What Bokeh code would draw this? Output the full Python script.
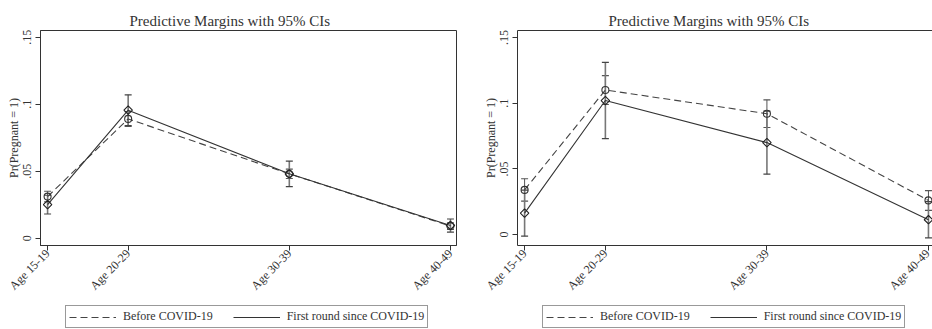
import numpy as np
from bokeh.plotting import figure
from bokeh.layouts import row, column
from bokeh.models import (Range1d, FixedTicker, Legend, LegendItem, LinearAxis)
from bokeh.embed import file_html
from bokeh.resources import INLINE

# ---------------- data ----------------
x_vals = [15, 20, 30, 40]
age_labels = ["Age 15-19", "Age 20-29", "Age 30-39", "Age 40-49"]
y_ticks = [0, 0.05, 0.1, 0.15]
y_tick_labels = ["0", ".05", ".1", ".15"]
title_text = "Predictive Margins with 95% CIs"
y_label = "Pr(Pregnant = 1)"
series_names = ["Before COVID-19", "First round since COVID-19"]

# left panel
before_a = [0.031, 0.089, 0.048, 0.009]
before_a_lo = [0.027, 0.0835, 0.0445, 0.0065]
before_a_hi = [0.035, 0.0945, 0.0515, 0.0115]
first_a = [0.025, 0.0955, 0.048, 0.0095]
first_a_lo = [0.018, 0.084, 0.0385, 0.0045]
first_a_hi = [0.032, 0.107, 0.0575, 0.0143]

# right panel
before_b = [0.034, 0.110, 0.092, 0.026]
before_b_lo = [0.0255, 0.099, 0.0815, 0.0185]
before_b_hi = [0.0425, 0.121, 0.1025, 0.0335]
first_b = [0.0163, 0.102, 0.070, 0.0113]
first_b_lo = [-0.0012, 0.073, 0.046, -0.0025]
first_b_hi = [0.0338, 0.131, 0.094, 0.0251]

SERIF = "Liberation Serif"
DARK = "#333333"
DASHED_STYLE = dict(line_color="#444444", line_width=1.1, line_dash="7 4")
SOLID_STYLE = dict(line_color=DARK, line_width=1.1)


def make_panel(before, b_lo, b_hi, first, f_lo, f_hi, y_rng, x_end,
               b_left, b_right, boxed, t_off):
    p = figure(width=466, height=300, output_backend="svg", toolbar_location=None,
               x_range=Range1d(14.56, x_end), y_range=Range1d(*y_rng),
               min_border_left=b_left, min_border_right=b_right,
               min_border_top=30, min_border_bottom=53,
               background_fill_color="white", border_fill_color="white")
    p.grid.visible = False

    xa = p.below[0]
    xa.ticker = FixedTicker(ticks=x_vals)
    xa.major_label_overrides = {x: l for x, l in zip(x_vals, age_labels)}
    xa.major_label_orientation = np.pi / 4
    ya = p.left[0]
    ya.ticker = FixedTicker(ticks=y_ticks)
    ya.major_label_overrides = {t: l for t, l in zip(y_ticks, y_tick_labels)}
    ya.major_label_orientation = "vertical"
    ya.axis_label = y_label
    ya.axis_label_text_font = SERIF
    ya.axis_label_text_font_style = "normal"
    ya.axis_label_text_font_size = "12px"
    ya.axis_label_standoff = 0
    ya.axis_label_text_color = DARK
    for ax in (xa, ya):
        ax.major_label_text_font = SERIF
        ax.major_label_text_font_size = "12px"
        ax.major_label_text_color = DARK
        ax.major_tick_out = 5
        ax.major_tick_in = 0
        ax.minor_tick_out = 0
        ax.minor_tick_in = 0
        ax.axis_line_color = DARK
        ax.major_tick_line_color = DARK
    ya.major_label_standoff = 4
    xa.major_label_standoff = 1

    if boxed:
        p.outline_line_color = DARK
        p.outline_line_width = 1
    else:
        p.outline_line_color = None
        top = LinearAxis(ticker=FixedTicker(ticks=[]), major_tick_out=0,
                         major_tick_in=0, minor_tick_out=0, minor_tick_in=0,
                         major_label_text_font_size="0px", axis_line_color=DARK)
        p.add_layout(top, "above")

    # confidence intervals
    p.segment(x0=x_vals, y0=b_lo, x1=x_vals, y1=b_hi, line_color="#555555", line_width=1)
    p.scatter(x_vals, b_lo, marker="dash", size=7, line_color="#555555", line_width=1.2)
    p.scatter(x_vals, b_hi, marker="dash", size=7, line_color="#555555", line_width=1.2)
    p.segment(x0=x_vals, y0=f_lo, x1=x_vals, y1=f_hi, line_color="#777777", line_width=1.6)
    p.scatter(x_vals, f_lo, marker="dash", size=7, line_color="#444444", line_width=1.2)
    p.scatter(x_vals, f_hi, marker="dash", size=7, line_color="#444444", line_width=1.2)

    # connected lines
    p.line(x_vals, before, **DASHED_STYLE)
    p.line(x_vals, first, **SOLID_STYLE)
    p.scatter(x_vals, before, marker="circle", size=7, fill_color=None,
              line_color="#333333", line_width=1.1)
    p.scatter(x_vals, first, marker="square", angle=np.pi / 4, size=6,
              fill_color=None, line_color="#222222", line_width=1.1)

    p.title.text = title_text
    p.title.text_font = SERIF
    p.title.text_font_style = "normal"
    p.title.text_font_size = "15px"
    p.title.text_color = DARK
    p.title.align = "left"
    p.title.offset = t_off
    p.title.standoff = 3

    # legend strip underneath (proxy renderers lie outside its visible range)
    lg = figure(width=466, height=29, output_backend="svg", toolbar_location=None,
                x_range=Range1d(0, 1), y_range=Range1d(0, 1),
                x_axis_location=None, y_axis_location=None,
                min_border=0, outline_line_color=None)
    lg.grid.visible = False
    rb = lg.line([-5, -4], [-5, -4], **DASHED_STYLE)
    rf = lg.line([-5, -4], [-5, -4], **SOLID_STYLE)
    legend = Legend(items=[LegendItem(label=series_names[0], renderers=[rb]),
                           LegendItem(label=series_names[1], renderers=[rf])],
                    orientation="horizontal", location=(25, 1),
                    label_text_font=SERIF, label_text_font_size="12px",
                    label_text_color=DARK, glyph_width=47, glyph_height=14,
                    label_standoff=7, spacing=20, padding=3, margin=0,
                    border_line_color=DARK, border_line_width=1,
                    background_fill_color="white", background_fill_alpha=1.0)
    lg.add_layout(legend)
    return column(p, lg, spacing=0)


pa = make_panel(before_a, before_a_lo, before_a_hi, first_a, first_a_lo, first_a_hi,
                (-0.0055, 0.155), 40.375, 40, 10, True, 89)
pb = make_panel(before_b, before_b_lo, before_b_hi, first_b, first_b_lo, first_b_hi,
                (-0.0083, 0.1553), 40.25, 51, 0, False, 91)

layout = row(pa, pb, spacing=0)
open("out.html", "w").write(file_html(layout, INLINE))
